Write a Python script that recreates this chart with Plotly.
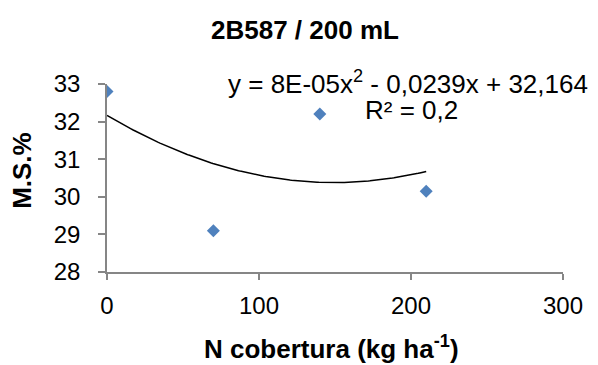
import numpy as np
import plotly.graph_objects as go

title = "<b>2B587 / 200 mL</b>"
x_title = "<b>N cobertura (kg ha<sup>-1</sup>)</b>"
y_title = "<b>M.S.%</b>"
n_cobertura = [0, 70, 140, 210]
ms_pct = [32.8, 29.1, 32.2, 30.15]
trend_coef = [8e-05, -0.0239, 32.164]
equation_text = "y = 8E-05x<sup>2</sup> - 0,0239x + 32,164"
r2_text = "R² = 0,2"
x_ticks = [0, 100, 200, 300]
y_ticks = [28, 29, 30, 31, 32, 33]

xs = np.linspace(min(n_cobertura), max(n_cobertura), 200)
ys = np.polyval(trend_coef, xs)

fig = go.Figure()
fig.add_trace(go.Scatter(x=xs, y=ys, mode="lines",
                         line=dict(color="black", width=1.5), hoverinfo="skip"))
fig.add_trace(go.Scatter(x=n_cobertura, y=ms_pct, mode="markers",
                         marker=dict(symbol="diamond", size=10, color="#4F81BD",
                                     line=dict(width=0))))

font = "Liberation Sans, Arial, sans-serif"
OFF = 8  # page body margin
W, H = 598 - OFF, 365 - OFF
# target plot area in screenshot pixels
L, R, T, B = 106.5, 563, 83.5, 272
fig.update_layout(
    width=W, height=H,
    margin=dict(l=L - OFF, r=598 - R, t=T - OFF, b=365 - B, autoexpand=False),
    paper_bgcolor="white", plot_bgcolor="white",
    showlegend=False,
    font=dict(family=font, size=24, color="black"),
    xaxis=dict(range=[0, 300], tickvals=x_ticks, showgrid=False, zeroline=False,
               showline=True, linecolor="#868686", linewidth=1.5,
               ticks="outside", ticklen=6, tickcolor="#868686", tickwidth=1.5,
               tickfont=dict(size=24), ticklabelstandoff=5, automargin=False),
    yaxis=dict(range=[28, 33], tickvals=y_ticks, showgrid=False, zeroline=False,
               showline=True, linecolor="#868686", linewidth=1.5,
               ticks="outside", ticklen=7, tickcolor="#868686", tickwidth=1.5,
               tickfont=dict(size=24), ticklabelstandoff=13, automargin=False),
)

def px(x):
    return (x - L) / (R - L)

def py(y):
    return (B - y) / (B - T)

fig.add_annotation(text=title, xref="paper", yref="paper", x=px(305), y=py(29),
                   xanchor="center", yanchor="middle", showarrow=False,
                   font=dict(size=26, family=font))
fig.add_annotation(text=x_title, xref="paper", yref="paper", x=px(331), y=py(348),
                   xanchor="center", yanchor="middle", showarrow=False,
                   font=dict(size=26, family=font))
fig.add_annotation(text=y_title, xref="paper", yref="paper", x=px(22), y=py(170),
                   xanchor="center", yanchor="middle", showarrow=False, textangle=-90,
                   font=dict(size=26, family=font))
fig.add_annotation(text=equation_text, xref="paper", yref="paper",
                   x=px(408), y=py(82), xanchor="center", yanchor="middle",
                   showarrow=False, font=dict(size=26, family=font))
fig.add_annotation(text=r2_text, xref="paper", yref="paper",
                   x=px(411), y=py(110), xanchor="center", yanchor="middle",
                   showarrow=False, font=dict(size=26, family=font))
fig.write_html("out.html")
